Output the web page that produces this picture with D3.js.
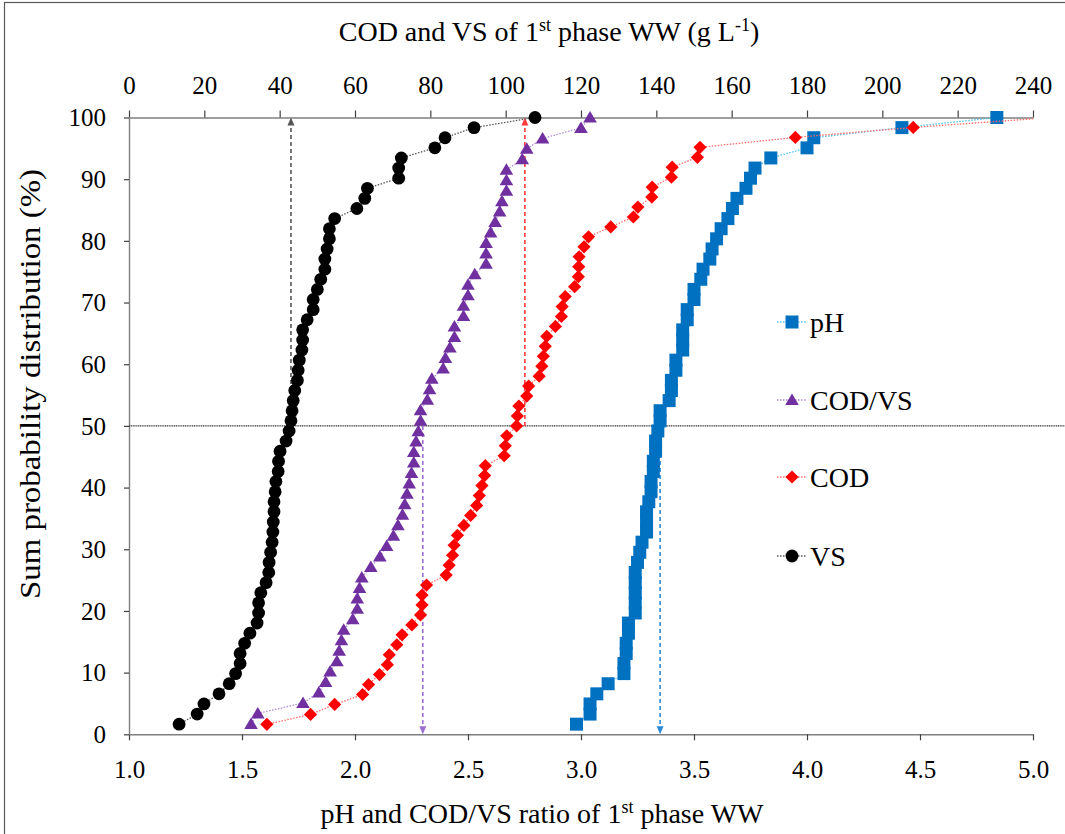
<!DOCTYPE html>
<html>
<head>
<meta charset="utf-8">
<script src="https://cdn.jsdelivr.net/npm/d3@7"></script>
<style>
  body { margin: 0; background: #fff; }
  svg, svg text { font-family: "Liberation Serif", "Times New Roman", Times, serif !important; }
  text { fill: #000; }
</style>
</head>
<body>
<svg id="chart" width="1065" height="834"></svg>
<script>
// ---- data: cumulative (sum) probability distributions of the 1st phase wastewater ----
// pH (bottom axis)
const phValues = [2.98, 3.04, 3.04, 3.07, 3.12, 3.19, 3.19, 3.20, 3.20, 3.21,
  3.21, 3.24, 3.24, 3.24, 3.24, 3.24, 3.25, 3.26, 3.27, 3.29,
  3.29, 3.29, 3.30, 3.31, 3.31, 3.32, 3.32, 3.33, 3.33, 3.34,
  3.35, 3.35, 3.39, 3.40, 3.40, 3.42, 3.42, 3.45, 3.45, 3.45,
  3.47, 3.47, 3.50, 3.50, 3.53, 3.54, 3.57, 3.58, 3.60, 3.62,
  3.65, 3.67, 3.69, 3.73, 3.75, 3.77, 3.84, 4.00, 4.03, 4.42, 4.84];
const phProb = [1.64, 3.28, 4.92, 6.56, 8.20, 9.84, 11.48, 13.11, 14.75, 16.39,
  18.03, 19.67, 21.31, 22.95, 24.59, 26.23, 27.87, 29.51, 31.15, 32.79,
  34.43, 36.07, 37.70, 39.34, 40.98, 42.62, 44.26, 45.90, 47.54, 49.18,
  50.82, 52.46, 54.10, 55.74, 57.38, 59.02, 60.66, 62.30, 63.93, 65.57,
  67.21, 68.85, 70.49, 72.13, 73.77, 75.41, 77.05, 78.69, 80.33, 81.97,
  83.61, 85.25, 86.89, 88.52, 90.16, 91.80, 93.44, 95.08, 96.72, 98.36, 100];

// COD/VS ratio (bottom axis)
const codVsValues = [1.54, 1.57, 1.77, 1.84, 1.87, 1.89, 1.92, 1.93, 1.94, 1.95,
  1.99, 2.01, 2.01, 2.02, 2.03, 2.07, 2.11, 2.14, 2.17, 2.19,
  2.21, 2.22, 2.23, 2.24, 2.25, 2.26, 2.26, 2.27, 2.28, 2.29,
  2.29, 2.32, 2.33, 2.34, 2.39, 2.40, 2.42, 2.44, 2.44, 2.48,
  2.48, 2.50, 2.50, 2.53, 2.58, 2.58, 2.58, 2.60, 2.62, 2.64,
  2.65, 2.67, 2.67, 2.67, 2.74, 2.76, 2.83, 3.00, 3.04];
const codVsProb = [1.69, 3.39, 5.08, 6.78, 8.47, 10.17, 11.86, 13.56, 15.25, 16.95,
  18.64, 20.34, 22.03, 23.73, 25.42, 27.12, 28.81, 30.51, 32.20, 33.90,
  35.59, 37.29, 38.98, 40.68, 42.37, 44.07, 45.76, 47.46, 49.15, 50.85,
  52.54, 54.24, 55.93, 57.63, 59.32, 61.02, 62.71, 64.41, 66.10, 67.80,
  69.49, 71.19, 72.88, 74.58, 76.27, 77.97, 79.66, 81.36, 83.05, 84.75,
  86.44, 88.14, 89.83, 91.53, 93.22, 94.92, 96.61, 98.31, 100];

// COD, g/L (top axis)
const codValues = [36.6, 48.2, 54.6, 62.0, 63.6, 66.5, 68.6, 69.1, 71.1, 72.5,
  75.1, 77.4, 77.8, 77.8, 79.0, 84.2, 85.0, 85.9, 86.3, 87.2,
  88.9, 90.7, 92.3, 93.0, 93.7, 94.4, 94.6, 99.6, 99.9, 100.3,
  102.9, 103.1, 103.5, 105.6, 106.1, 108.9, 109.6, 110.0, 110.5, 110.9,
  113.2, 114.8, 115.0, 115.8, 118.3, 119.3, 119.4, 119.5, 120.8, 122.0,
  127.9, 133.9, 135.1, 138.8, 138.9, 144.0, 144.2, 150.9, 151.6, 176.9,
  208.2, 245.0];
const codProb = [1.61, 3.23, 4.84, 6.45, 8.06, 9.68, 11.29, 12.90, 14.52, 16.13,
  17.74, 19.35, 20.97, 22.58, 24.19, 25.81, 27.42, 29.03, 30.65, 32.26,
  33.87, 35.48, 37.10, 38.71, 40.32, 41.94, 43.55, 45.16, 46.77, 48.39,
  50.00, 51.61, 53.23, 54.84, 56.45, 58.06, 59.68, 61.29, 62.90, 64.52,
  66.13, 67.74, 69.35, 70.97, 72.58, 74.19, 75.81, 77.42, 79.03, 80.65,
  82.26, 83.87, 85.48, 87.10, 88.71, 90.32, 91.94, 93.55, 95.16, 96.77,
  98.39, 100];

// VS, g/L (top axis)
const vsValues = [13.3, 18.1, 19.9, 23.9, 26.6, 28.3, 29.5, 29.5, 30.7, 32.1,
  34.0, 34.4, 34.4, 35.0, 36.4, 37.1, 37.2, 37.6, 38.0, 38.2,
  38.3, 38.5, 38.5, 38.8, 39.0, 39.6, 39.7, 40.1, 41.7, 42.5,
  43.0, 43.3, 43.6, 44.0, 44.7, 44.9, 45.2, 45.9, 46.1, 46.1,
  47.3, 48.9, 48.9, 50.0, 50.9, 52.0, 52.0, 52.6, 53.2, 53.2,
  54.6, 60.5, 62.6, 63.3, 71.6, 71.6, 72.3, 81.2, 83.9, 91.6, 107.8];
const vsProb = [1.64, 3.28, 4.92, 6.56, 8.20, 9.84, 11.48, 13.11, 14.75, 16.39,
  18.03, 19.67, 21.31, 22.95, 24.59, 26.23, 27.87, 29.51, 31.15, 32.79,
  34.43, 36.07, 37.70, 39.34, 40.98, 42.62, 44.26, 45.90, 47.54, 49.18,
  50.82, 52.46, 54.10, 55.74, 57.38, 59.02, 60.66, 62.30, 63.93, 65.57,
  67.21, 68.85, 70.49, 72.13, 73.77, 75.41, 77.05, 78.69, 80.33, 81.97,
  83.61, 85.25, 86.89, 88.52, 90.16, 91.80, 93.44, 95.08, 96.72, 98.36, 100];

// medians (50 % of the distribution)
const medianPh = 3.35, medianCodVs = 2.30, medianCod = 105.1, medianVs = 43.0;
const medianLevel = 50;

// axis ticks
const bottomTicks = [1.0, 1.5, 2.0, 2.5, 3.0, 3.5, 4.0, 4.5, 5.0];
const topTicks = [0, 20, 40, 60, 80, 100, 120, 140, 160, 180, 200, 220, 240];
const yTicks = [0, 10, 20, 30, 40, 50, 60, 70, 80, 90, 100];

// ---- layout ----
const FONT = '"Liberation Serif", "Times New Roman", Times, serif';
const svg = d3.select("#chart").style("font-family", FONT);
const plot = { left: 129, right: 1033, top: 117.5, bottom: 734.3 };

const xBottom = d3.scaleLinear().domain([1, 5]).range([plot.left, plot.right]);
const xTop = d3.scaleLinear().domain([0, 240]).range([plot.left, plot.right]);
const y = d3.scaleLinear().domain([0, 100]).range([plot.bottom, plot.top]);

// outer chart frame
svg.append("rect").attr("x", 4.5).attr("y", 2.5).attr("width", 1100).attr("height", 900)
  .attr("fill", "none").attr("stroke", "#595959").attr("stroke-width", 1.2);

svg.append("defs").append("clipPath").attr("id", "plotClip")
  .append("rect").attr("x", 0).attr("y", 0).attr("width", plot.right).attr("height", 834);

// axes
function styleAxis(g) {
  g.attr("font-family", FONT);
  g.select(".domain").attr("stroke", "#7f7f7f").attr("stroke-width", 1.4);
  g.selectAll(".tick line").attr("stroke", "#404040").attr("stroke-width", 1.2);
  g.selectAll(".tick text").style("font-size", "25px").style("font-family", FONT).attr("fill", "#000");
}
const gBottom = svg.append("g").attr("transform", `translate(0,${plot.bottom})`)
  .call(d3.axisBottom(xBottom).tickValues(bottomTicks).tickFormat(d3.format(".1f")).tickSize(6).tickSizeOuter(0))
  .call(styleAxis);
gBottom.selectAll(".tick text").attr("y", 44).attr("dy", null);

const gTop = svg.append("g").attr("transform", `translate(0,${plot.top})`)
  .call(d3.axisTop(xTop).tickValues(topTicks).tickFormat(d3.format("d")).tickSize(7).tickSizeOuter(0))
  .call(styleAxis);
gTop.selectAll(".tick text").attr("y", -23.5).attr("dy", null);

const gLeft = svg.append("g").attr("transform", `translate(${plot.left},0)`)
  .call(d3.axisLeft(y).tickValues(yTicks).tickFormat(d3.format("d")).tickSize(5).tickSizeOuter(0))
  .call(styleAxis);
gLeft.selectAll(".tick text").attr("x", -23).attr("dy", "0.33em");

// axis titles (superscripts raised, following text dropped back to the baseline)
function titleWithSup(parts, size) {
  const t = svg.append("text").attr("text-anchor", "middle")
    .style("font-size", size + "px").style("font-family", FONT);
  const shift = size * 0.36;
  let raised = false;
  parts.forEach(p => {
    const ts = t.append("tspan");
    if (p.sup) {
      ts.attr("dy", raised ? 0 : -shift).style("font-size", Math.round(size * 0.64) + "px").text(p.sup);
      raised = true;
    } else {
      if (raised) ts.attr("dy", shift);
      raised = false;
      ts.text(p.text);
    }
  });
  return t;
}
titleWithSup([{ text: "COD and VS of 1" }, { sup: "st" }, { text: " phase WW (g L" }, { sup: "-1" }, { text: ")" }], 28)
  .attr("transform", "translate(549,41)");
titleWithSup([{ text: "pH and COD/VS ratio of 1" }, { sup: "st" }, { text: " phase WW" }], 28)
  .attr("transform", "translate(542,823)");
svg.append("text").attr("text-anchor", "middle").style("font-size", "29px").style("font-family", FONT)
  .attr("transform", "translate(40,384) rotate(-90)")
  .attr("textLength", 430).attr("lengthAdjust", "spacingAndGlyphs")
  .text("Sum probability distribution (%)");

// 50 % reference line
svg.append("line").attr("x1", plot.left).attr("x2", 1065)
  .attr("y1", y(medianLevel)).attr("y2", y(medianLevel))
  .attr("stroke", "#3a3a3a").attr("stroke-width", 1.3).attr("stroke-dasharray", "1.2,0.6");

// median arrows
function medianArrow(xPos, toLevel, color) {
  const y0 = y(medianLevel), y1 = y(toLevel);
  const dir = y1 < y0 ? 1 : -1;
  svg.append("line").attr("x1", xPos).attr("x2", xPos).attr("y1", y0).attr("y2", y1 + dir * 6)
    .attr("stroke", color).attr("stroke-width", 1.6).attr("stroke-dasharray", "4,3");
  svg.append("path")
    .attr("d", `M${xPos},${y1} L${xPos - 3.5},${y1 + dir * 8} L${xPos + 3.5},${y1 + dir * 8} Z`)
    .attr("fill", color);
}
medianArrow(xTop(medianVs), 100, "#555555");
medianArrow(xTop(medianCod), 100, "#ff3b3b");
medianArrow(xBottom(medianCodVs), 0, "#9b6fd0");
medianArrow(xBottom(medianPh), 0, "#2b8ad6");

// marker shapes
const shapes = {
  square: "M-6.5,-6.5 H6.5 V6.5 H-6.5 Z",
  triangle: "M0,-6.5 L6.8,5 L-6.8,5 Z",
  diamond: "M0,-6.6 L6.6,0 L0,6.6 L-6.6,0 Z",
  circle: d3.symbol().type(d3.symbolCircle).size(Math.PI * 6.4 * 6.4)()
};

const series = [
  { name: "pH", xs: phValues, ps: phProb, scale: xBottom, color: "#0070C0", line: "#4cc3f2", shape: "square", legendY: 322 },
  { name: "COD/VS", xs: codVsValues, ps: codVsProb, scale: xBottom, color: "#7030A0", line: "#b08ad8", shape: "triangle", legendY: 400 },
  { name: "COD", xs: codValues, ps: codProb, scale: xTop, color: "#FF0000", line: "#ff6a6a", shape: "diamond", legendY: 477 },
  { name: "VS", xs: vsValues, ps: vsProb, scale: xTop, color: "#000000", line: "#555555", shape: "circle", legendY: 556 }
];

const plotG = svg.append("g").attr("clip-path", "url(#plotClip)");
series.forEach(s => {
  const pts = s.xs.map((v, i) => [s.scale(v), y(s.ps[i])]);
  plotG.append("path").attr("d", d3.line()(pts))
    .attr("fill", "none").attr("stroke", s.line).attr("stroke-width", 1.3).attr("stroke-dasharray", "1.5,1.5");
  plotG.selectAll(null).data(pts).enter().append("path")
    .attr("d", shapes[s.shape])
    .attr("transform", d => `translate(${d[0]},${d[1]})`)
    .attr("fill", s.color);
});

// legend
const legend = svg.append("g");
series.forEach(s => {
  legend.append("line").attr("x1", 777).attr("x2", 807).attr("y1", s.legendY).attr("y2", s.legendY)
    .attr("stroke", s.line).attr("stroke-width", 1.3).attr("stroke-dasharray", "1.5,1.5");
  legend.append("path").attr("d", shapes[s.shape])
    .attr("transform", `translate(792,${s.legendY})`).attr("fill", s.color);
  legend.append("text").attr("x", 810).attr("y", s.legendY + 10)
    .style("font-size", "28px").style("font-family", FONT).text(s.name);
});
</script>
</body>
</html>
